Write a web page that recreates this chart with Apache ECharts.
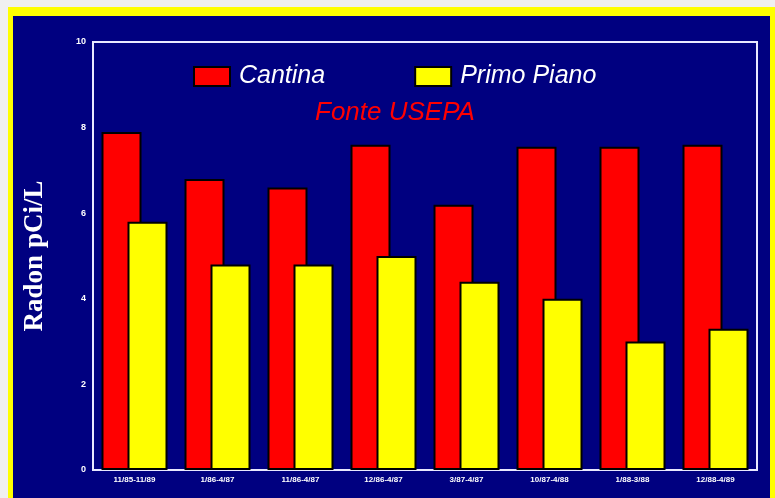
<!DOCTYPE html>
<html>
<head>
<meta charset="utf-8">
<style>
  html, body { margin: 0; padding: 0; background: #f0f0f0; }
  #chart { width: 775px; height: 498px; }
</style>
<script src="https://cdn.jsdelivr.net/npm/echarts@6/dist/echarts.min.js"></script>
</head>
<body>
<div id="chart"></div>
<script>
// Survey periods along the category axis
const periods = ['11/85-11/89', '1/86-4/87', '11/86-4/87', '12/86-4/87', '3/87-4/87', '10/87-4/88', '1/88-3/88', '12/88-4/89'];
// Radon concentration (pCi/L) measured in basements
const cantina = [7.9, 6.8, 6.6, 7.6, 6.2, 7.55, 7.55, 7.6];
// Radon concentration (pCi/L) measured on the first floor
const primoPiano = [5.8, 4.8, 4.8, 5.0, 4.4, 4.0, 3.0, 3.3];
// Value axis ticks
const yTicks = [0, 2, 4, 6, 8, 10];

const chart = echarts.init(document.getElementById('chart'), null, { renderer: 'canvas' });

chart.setOption({
  backgroundColor: '#f0f0f0',
  animation: false,
  graphic: [
    { type: 'rect', z: -10, shape: { x: 8, y: 7, width: 780, height: 500 }, style: { fill: '#ffff00' } },
    { type: 'rect', z: -9, shape: { x: 13, y: 16, width: 757, height: 490 }, style: { fill: '#000080' } },
    {
      type: 'text', left: 315, top: 100, z: 10,
      style: { text: 'Fonte USEPA', fill: '#ff0000', font: 'italic 26px "Liberation Sans"' }
    }
  ],
  legend: {
    top: 59,
    left: 188,
    icon: 'rect',
    itemWidth: 36,
    itemHeight: 19,
    itemGap: 89,
    itemStyle: { borderColor: '#000000', borderWidth: 2 },
    textStyle: { color: '#ffffff', fontSize: 25, fontStyle: 'italic', fontFamily: 'Liberation Sans', padding: [0, 0, 0, 4] },
    data: ['Cantina', 'Primo Piano']
  },
  grid: {
    left: 93, right: 18, top: 42, bottom: 28,
    show: true, borderColor: '#e8e8ff', borderWidth: 2, backgroundColor: 'transparent'
  },
  xAxis: {
    type: 'category',
    data: periods,
    axisLine: { lineStyle: { color: '#e8e8ff', width: 2 } },
    axisTick: { show: false },
    axisLabel: { color: '#ffffff', fontSize: 8, fontWeight: 'bold', margin: 6, interval: 0 }
  },
  yAxis: {
    type: 'value',
    min: yTicks[0],
    max: yTicks[yTicks.length - 1],
    interval: yTicks[1] - yTicks[0],
    name: 'Radon pCi/L',
    nameLocation: 'middle',
    nameGap: 44,
    nameTextStyle: { color: '#ffffff', fontSize: 27, fontWeight: 'bold', fontFamily: 'Liberation Serif' },
    axisLine: { show: true, lineStyle: { color: '#e8e8ff', width: 2 } },
    axisTick: { show: false },
    splitLine: { show: false },
    axisLabel: { color: '#ffffff', fontSize: 9, fontWeight: 'bold', margin: 7 }
  },
  series: [
    {
      name: 'Cantina', type: 'bar', data: cantina,
      barWidth: 40, barGap: '-35%',
      itemStyle: { color: '#ff0000', borderColor: '#000000', borderWidth: 2 }
    },
    {
      name: 'Primo Piano', type: 'bar', data: primoPiano,
      barWidth: 40,
      itemStyle: { color: '#ffff00', borderColor: '#000000', borderWidth: 2 }
    }
  ]
});
</script>
</body>
</html>
